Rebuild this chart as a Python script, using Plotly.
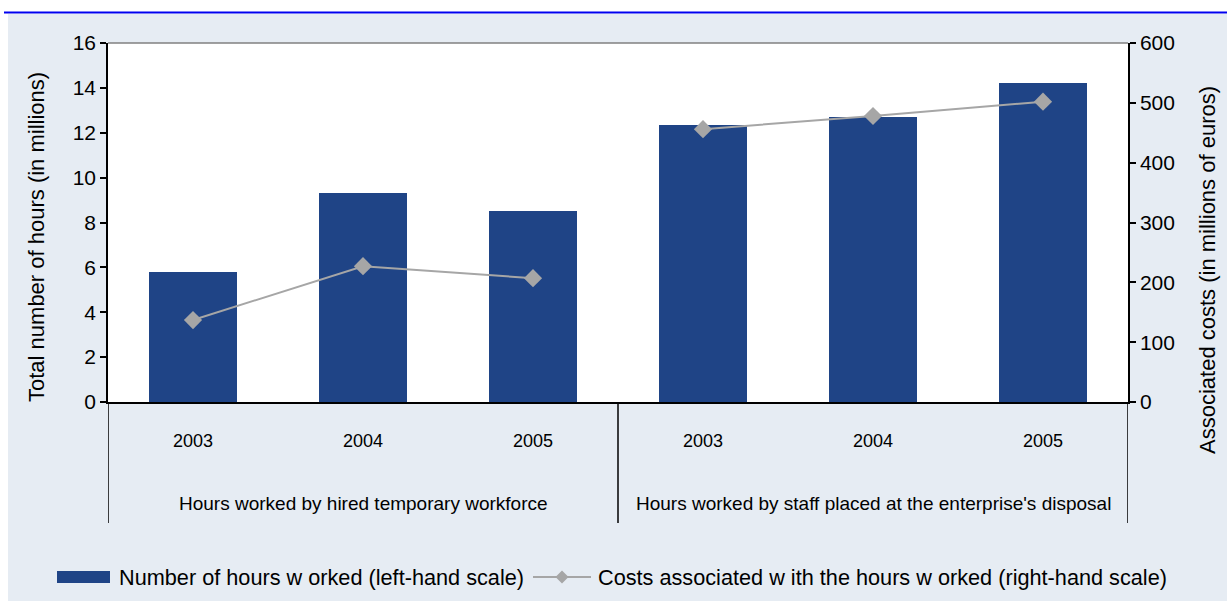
import plotly.graph_objects as go

# Data
years = ["2003", "2004", "2005"]
groups = [
    "Hours worked by hired temporary workforce",
    "Hours worked by staff placed at the enterprise's disposal",
]
hours_temp = [5.8, 9.3, 8.5]          # millions of hours
hours_disposal = [12.35, 12.7, 14.2]  # millions of hours
costs_temp = [137, 227, 207]          # millions of euros
costs_disposal = [456, 478, 502]      # millions of euros

left_ticks = [0, 2, 4, 6, 8, 10, 12, 14, 16]
right_ticks = [0, 100, 200, 300, 400, 500, 600]

legend_bar = "Number of hours w orked (left-hand scale)"
legend_line = "Costs associated w ith the hours w orked (right-hand scale)"

# Positions on a numeric category axis
n = len(years)
pos_temp = list(range(n))
pos_disp = list(range(n, 2 * n))
all_pos = pos_temp + pos_disp
all_years = years + years

BAR = "#1F4486"
LINE = "#A6A6A6"
PANEL = "#E6ECF3"
NARROW = "Liberation Sans Narrow, Arial Narrow, Liberation Sans, Arial"
SANS = "Liberation Sans, Arial, sans-serif"

fig = go.Figure()

fig.add_trace(go.Bar(
    x=all_pos, y=hours_temp + hours_disposal,
    width=0.52, marker=dict(color=BAR, line=dict(width=0)),
    name=legend_bar, yaxis="y",
))
fig.add_trace(go.Scatter(
    x=pos_temp, y=costs_temp, mode="lines+markers",
    line=dict(color=LINE, width=2),
    marker=dict(symbol="diamond", size=14, color=LINE),
    name=legend_line, yaxis="y2",
))
fig.add_trace(go.Scatter(
    x=pos_disp, y=costs_disposal, mode="lines+markers",
    line=dict(color=LINE, width=2),
    marker=dict(symbol="diamond", size=14, color=LINE),
    name=legend_line, yaxis="y2",
))

# Pixel geometry of the plot area
W, H = 1227, 601
L, R, T, B = 108, 1128, 43, 402
pw, ph = R - L, B - T


def px(x):
    return (x - L) / pw


def py(y):
    return (B - y) / ph


shapes = [
    # white strips outside the panel
    dict(type="rect", xref="paper", yref="paper", x0=px(0), x1=px(W), y0=py(14), y1=py(0),
         fillcolor="white", line=dict(width=0), layer="below"),
    dict(type="rect", xref="paper", yref="paper", x0=px(0), x1=px(8), y0=py(W), y1=py(0),
         fillcolor="white", line=dict(width=0), layer="below"),
    # blue rule at the top
    dict(type="line", xref="paper", yref="paper", x0=px(4), x1=px(W), y0=py(12.5), y1=py(12.5),
         line=dict(color="#0000F0", width=2)),
    # grey top border of the plot area
    dict(type="line", xref="paper", yref="paper", x0=0, x1=1, y0=1, y1=1,
         line=dict(color="#808080", width=1.5)),
]
# group separators below the category axis
for xv in (-0.5, n - 0.5, 2 * n - 0.5):
    shapes.append(dict(type="line", xref="x", yref="paper", x0=xv, x1=xv, y0=py(523), y1=0,
                       line=dict(color="black", width=1.5)))

# legend keys
ly = 577
shapes.append(dict(type="rect", xref="paper", yref="paper",
                   x0=px(57), x1=px(110), y0=py(ly + 6), y1=py(ly - 6),
                   fillcolor=BAR, line=dict(width=0)))
shapes.append(dict(type="line", xref="paper", yref="paper",
                   x0=px(533), x1=px(591), y0=py(ly), y1=py(ly),
                   line=dict(color=LINE, width=2)))
dcx, dr = 562, 6.5
shapes.append(dict(
    type="path", xref="paper", yref="paper",
    path=(f"M{px(dcx - dr)},{py(ly)} L{px(dcx)},{py(ly - dr)} "
          f"L{px(dcx + dr)},{py(ly)} L{px(dcx)},{py(ly + dr)} Z"),
    fillcolor=LINE, line=dict(width=0),
))

annotations = []
for gi, g in enumerate(groups):
    annotations.append(dict(
        x=gi * n + (n - 1) / 2, xref="x", y=py(503), yref="paper",
        text=g, showarrow=False, font=dict(family=NARROW, size=19, color="black"),
        xanchor="center", yanchor="middle",
    ))
annotations.append(dict(
    x=px(36), xref="paper", y=py(237), yref="paper", text="Total number of hours (in millions)",
    textangle=-90, showarrow=False, font=dict(family=SANS, size=22, color="black"),
    xanchor="center", yanchor="middle",
))
annotations.append(dict(
    x=px(1207), xref="paper", y=py(270), yref="paper",
    text="Associated costs (in millions of euros)",
    textangle=-90, showarrow=False, font=dict(family=SANS, size=22, color="black"),
    xanchor="center", yanchor="middle",
))
annotations.append(dict(
    x=px(117), xref="paper", y=py(ly), yref="paper", text=legend_bar, showarrow=False,
    font=dict(family=NARROW, size=21.7, color="black"), xanchor="left", yanchor="middle",
))
annotations.append(dict(
    x=px(596), xref="paper", y=py(ly), yref="paper", text=legend_line, showarrow=False,
    font=dict(family=NARROW, size=21.7, color="black"), xanchor="left", yanchor="middle",
))

fig.update_layout(
    width=W, height=H,
    margin=dict(l=L, r=W - R, t=T, b=H - B, pad=0),
    paper_bgcolor=PANEL, plot_bgcolor="white",
    showlegend=False,
    bargap=0,
    xaxis=dict(
        range=[-0.5, 2 * n - 0.5], tickmode="array", tickvals=all_pos, ticktext=all_years,
        ticks="outside", ticklen=22, tickcolor="rgba(0,0,0,0)",
        tickfont=dict(family=NARROW, size=18, color="black"),
        showline=True, linecolor="black", linewidth=1.5, showgrid=False, zeroline=False,
        automargin=False,
    ),
    yaxis=dict(
        range=[0, 16], tickmode="array", tickvals=left_ticks,
        ticks="outside", ticklen=6, tickwidth=1.5, tickcolor="black",
        tickfont=dict(family=SANS, size=21, color="black"),
        showline=True, linecolor="black", linewidth=1.5, showgrid=False, zeroline=False,
        automargin=False,
    ),
    yaxis2=dict(
        range=[0, 600], tickmode="array", tickvals=right_ticks, overlaying="y", side="right",
        ticks="outside", ticklen=6, tickwidth=1.5, tickcolor="black",
        tickfont=dict(family=SANS, size=21, color="black"),
        showline=True, linecolor="black", linewidth=1.5, showgrid=False, zeroline=False,
        automargin=False,
    ),
    shapes=shapes,
    annotations=annotations,
)

fig.write_html("out.html")
